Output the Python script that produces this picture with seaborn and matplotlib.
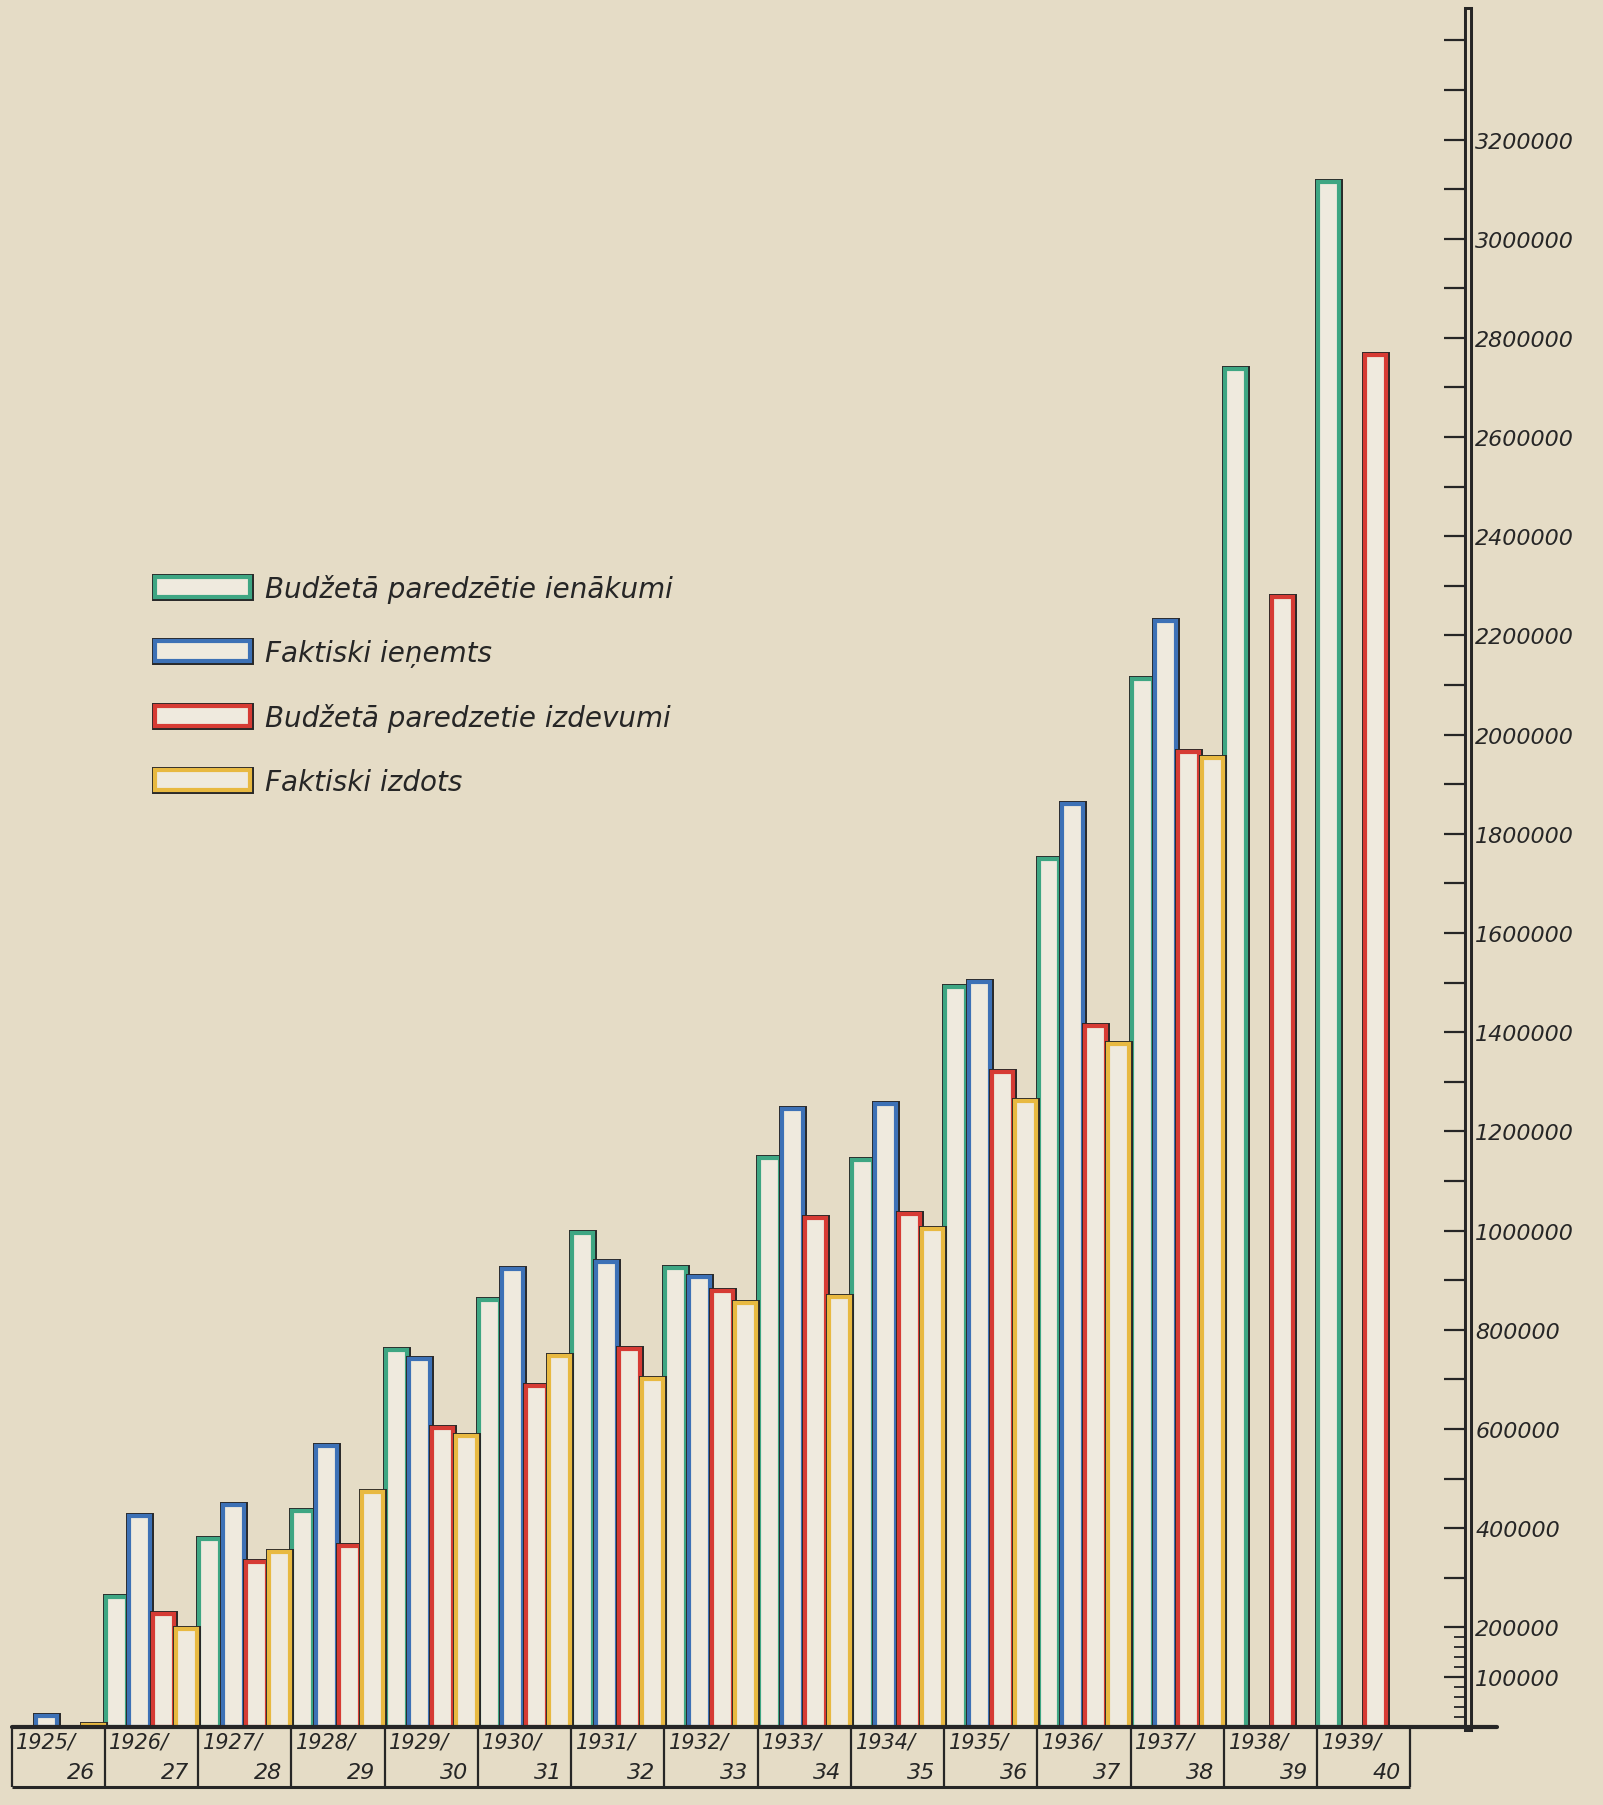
import numpy as np
import pandas as pd
import seaborn as sns
import matplotlib.pyplot as plt
import matplotlib.patheffects as pe
import matplotlib.transforms as mtransforms
from matplotlib.patches import Patch

# --- dati (Radiofona budžets, Ls) ---
years = ['1925/26', '1926/27', '1927/28', '1928/29', '1929/30', '1930/31', '1931/32',
         '1932/33', '1933/34', '1934/35', '1935/36', '1936/37', '1937/38', '1938/39', '1939/40']

budget_income = [np.nan, 262000, 379000, 435000, 760000, 860000, 995000,
                 925000, 1146000, 1143000, 1492000, 1750000, 2112000, 2738000, 3114000]
actual_income = [22000, 425000, 446000, 565000, 741000, 923000, 937000,
                 906000, 1246000, 1255000, 1501000, 1861000, 2229000, np.nan, np.nan]
budget_expense = [np.nan, 228000, 332000, 365000, 602000, 686000, 762000,
                  878000, 1025000, 1034000, 1320000, 1413000, 1966000, 2277000, 2766000]
actual_expense = [4000, 197000, 353000, 474000, 586000, 748000, 700000,
                  855000, 867000, 1004000, 1262000, 1376000, 1952000, np.nan, np.nan]

series = ['Budžetā paredzētie ienākumi', 'Faktiski ieņemts',
          'Budžetā paredzetie izdevumi', 'Faktiski izdots']
colors = ['#3ea683', '#3d71b6', '#d63b34', '#e8b941']

tick_vals = [100000] + list(range(200000, 3200001, 200000))

paper = '#e5dcc6'
inner = '#efeade'
ink = '#262626'

# long form tabula priekš seaborn
df = pd.DataFrame({
    'year': years * 4,
    'value': budget_income + actual_income + budget_expense + actual_expense,
    'series': sum([[s] * len(years) for s in series], []),
})

sns.set_style('white')
plt.rcParams['font.family'] = ['DejaVu Sans']

fig = plt.figure(figsize=(16.03, 18.06), dpi=100, facecolor=paper)
ax = fig.add_axes([0.0072, 0.0434, 0.9087, 0.9502])
ax.set_facecolor(paper)

sns.barplot(data=df, x='year', y='value', hue='series', hue_order=series, order=years,
            palette=colors, saturation=1, width=1.0, gap=0.1, legend=False, ax=ax)

# stabiņi: krāsaina mala, gaišs vidus, tumša kontūra
outline = [pe.Stroke(linewidth=5.0, foreground=ink), pe.Normal()]
for p in ax.patches:
    c = p.get_facecolor()
    p.set_edgecolor(c)
    p.set_facecolor(inner)
    p.set_linewidth(3.0)
    p.set_path_effects(outline)

# ass labajā pusē, dubultā līnija
for s in ['left', 'top', 'bottom']:
    ax.spines[s].set_visible(False)
ax.spines['right'].set_linewidth(2)
ax.spines['right'].set_path_effects([pe.Stroke(linewidth=6.5, foreground=ink),
                                     pe.Stroke(linewidth=2.2, foreground=paper)])
ax.yaxis.tick_right()

all_ticks = list(range(100000, 3400001, 100000))
labels = [f'{v}' if v in tick_vals else '' for v in all_ticks]
ax.set_yticks(all_ticks)
ax.set_yticklabels(labels, fontstyle='italic')
ax.set_yticks([v for v in range(20000, 200000, 20000) if v != 100000], minor=True)
ax.tick_params(axis='y', which='major', direction='in', length=17, width=1.6,
               pad=5, labelsize=16, colors=ink, right=True, left=False)
ax.tick_params(axis='y', which='minor', direction='in', length=10, width=1.3,
               colors=ink, right=True, left=False)
ax.set_xticks([])
ax.set_xlabel('')
ax.set_ylabel('')

# pamatlīnija
ax.axhline(0, xmin=0, xmax=1.02, color=ink, lw=3, clip_on=False, zorder=5)

# gadu tabula zem ass
trans = mtransforms.blended_transform_factory(ax.transData, ax.transAxes)
ax.vlines(np.arange(-0.5, len(years), 1.0), -0.035, 0, transform=trans,
          colors=ink, lw=1.6, clip_on=False)
ax.hlines(-0.035, -0.5, len(years) - 0.5, transform=trans, colors=ink, lw=2.2,
          clip_on=False)
for i, yr in enumerate(years):
    top, bot = yr.split('/')
    ax.text(i - 0.45, -0.003, top + '/', transform=trans, ha='left', va='top',
            fontsize=15, fontstyle='italic', color=ink)
    ax.text(i + 0.4, -0.0325, bot, transform=trans, ha='right', va='bottom',
            fontsize=16, fontstyle='italic', color=ink)

# leģenda
handles = [Patch(facecolor=inner, edgecolor=c, linewidth=3.0, path_effects=outline)
           for c in colors]
ax.legend(handles, series, loc='upper left', bbox_to_anchor=(0.089, 0.68),
          frameon=False, borderpad=0, handlelength=3.4, handleheight=0.75,
          handletextpad=0.55, labelspacing=1.3,
          prop={'style': 'italic', 'size': 20})

ax.set_xlim(-0.5, 15.12)
ax.set_ylim(0, 3460000)

fig.savefig('out.png', dpi=100, facecolor=paper)
